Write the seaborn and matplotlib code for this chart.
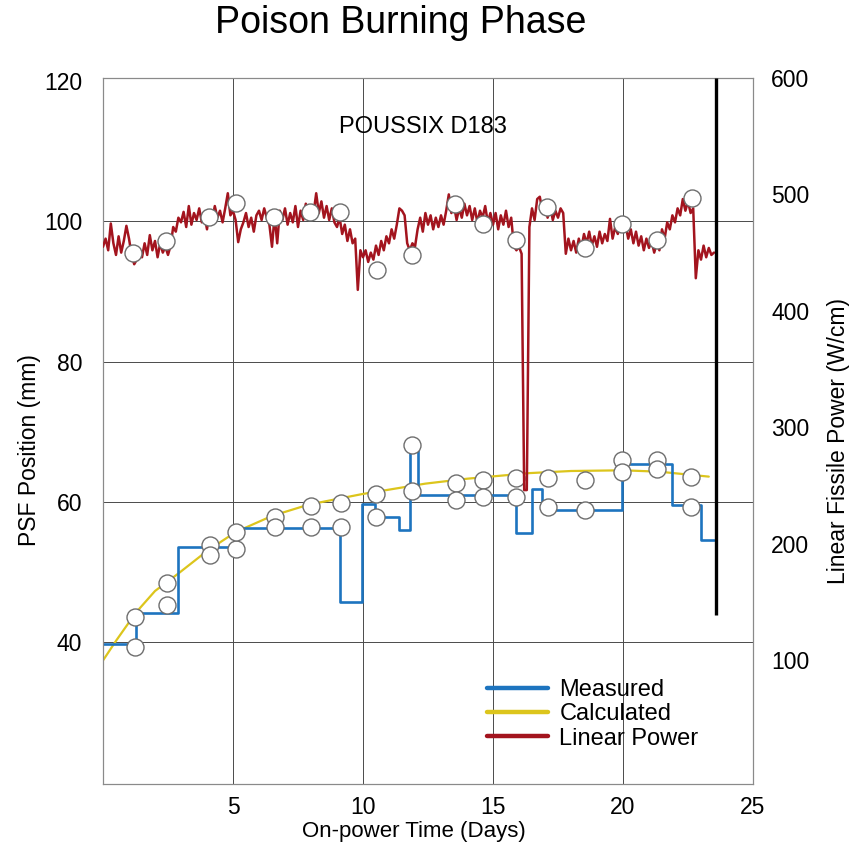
import numpy as np
import matplotlib
matplotlib.use("Agg")
import matplotlib.pyplot as plt
from matplotlib.lines import Line2D
import seaborn as sns

# ---------------- data ----------------
# Measured PSF position (step line, mm)
meas_day = [0, 1.26, 2.9, 5.1, 9.1, 9.95, 10.45, 11.4, 11.8, 12.1, 15.9, 16.5, 16.9, 19.96, 21.9, 23.0, 23.5]
meas_psf = [39.7, 44.2, 53.6, 56.3, 45.8, 59.7, 57.9, 56.0, 67.7, 61.0, 55.6, 61.9, 58.9, 65.4, 59.6, 54.6, 54.6]

# Calculated PSF position (mm)
calc_day = [0, 0.5, 1.26, 2.0, 2.9, 4.0, 5.1, 6.5, 7.9, 9.95, 12.4, 14.0, 16.4, 18.0, 20.0, 21.4, 23.3]
calc_psf = [37.4, 40.2, 44.2, 47.3, 49.8, 53.0, 55.7, 58.0, 59.6, 61.1, 62.6, 63.3, 64.1, 64.4, 64.5, 64.3, 63.6]

# Circle markers in the PSF region (mm)
psf_pt_day = [1.23, 1.23, 2.45, 2.45, 4.1, 4.1, 5.13, 5.13, 6.63, 6.63, 8.0, 8.0, 9.15, 9.15,
              10.5, 10.5, 11.9, 11.9, 13.56, 13.56, 14.6, 14.6, 15.9, 15.9, 17.1, 17.1,
              18.55, 18.55, 19.96, 19.96, 21.3, 21.3, 22.6, 22.6]
psf_pt_val = [39.3, 43.6, 45.3, 48.4, 53.9, 52.4, 53.3, 55.7, 57.9, 56.4, 59.4, 56.4, 59.9, 56.4,
              61.1, 57.9, 68.1, 61.6, 62.7, 60.3, 63.1, 60.7, 63.4, 60.7, 63.4, 59.3,
              63.1, 58.9, 65.9, 64.3, 65.9, 64.7, 63.6, 59.3]

# Circle markers on the power trace (W/cm)
pow_pt_day = [1.15, 2.41, 4.06, 5.1, 6.59, 7.97, 9.12, 10.54, 11.88, 13.52, 14.6, 15.9, 17.09,
              18.54, 19.96, 21.3, 22.64]
pow_pt_val = [450, 460, 481, 493, 481, 485, 485, 435, 448, 492, 475, 461, 489, 454, 475, 461, 497]

# Linear power trace (W/cm), one reading every 0.1 day from day 0
power_val = [
    455, 462, 452, 475, 458, 448, 464, 450, 460, 473,
    462, 448, 440, 444, 452, 446, 458, 448, 465, 452,
    460, 446, 458, 450, 455, 448, 456, 472, 468, 480,
    476, 485, 472, 490, 474, 484, 478, 488, 476, 482,
    470, 486, 478, 490, 480, 486, 476, 488, 501, 482,
    486, 478, 459, 470, 476, 484, 472, 480, 468, 482,
    486, 478, 488, 480, 474, 455, 482, 458, 486, 478,
    488, 474, 484, 476, 490, 472, 486, 478, 492, 484,
    490, 484, 501, 484, 494, 480, 490, 478, 488, 476,
    472, 480, 466, 474, 460, 470, 458, 462, 418, 452,
    446, 452, 442, 450, 444, 456, 448, 460, 452, 464,
    458, 470, 462, 474, 488, 486, 482, 458, 452, 458,
    455, 470, 480, 468, 484, 474, 482, 470, 480, 472,
    482, 474, 486, 500, 484, 490, 478, 488, 480, 492,
    482, 490, 478, 488, 476, 486, 480, 490, 476, 484,
    474, 484, 470, 482, 474, 486, 472, 480, 456, 452,
    455, 449, 246, 246, 472, 488, 478, 496, 498, 486,
    494, 480, 490, 478, 486, 480, 488, 484, 449, 462,
    452, 460, 450, 462, 454, 466, 458, 468, 456, 464,
    455, 468, 458, 466, 460, 479, 462, 472, 466, 476,
    470, 474, 462, 470, 458, 468, 456, 464, 452, 462,
    454, 460, 450, 458, 452, 470, 462, 476, 470, 482,
    476, 488, 482, 496, 486, 494, 484, 488, 428, 452,
    444, 456, 446, 454, 448, 450,
]
power_day = np.arange(len(power_val)) * 0.1

# End-of-irradiation marker
end_day = 23.56
end_low = 139
end_high = 600

x_ticks = [5, 10, 15, 20, 25]
left_ticks = [40, 60, 80, 100, 120]
right_ticks = [100, 200, 300, 400, 500, 600]

# ---------------- style ----------------
BLUE = "#1d74bf"
YELLOW = "#dcc51c"
RED = "#a3141e"

sns.set_theme(style="white")
plt.rcParams["font.family"] = ["Liberation Sans", "DejaVu Sans"]
for key in ("text.color", "axes.labelcolor", "xtick.color", "ytick.color"):
    plt.rcParams[key] = "black"

fig = plt.figure(figsize=(8.6, 8.52), dpi=100)
ax = fig.add_axes([103 / 860, 1 - 784 / 852, 650 / 860, 706 / 852])
ax2 = ax.twinx()

# left axis: PSF
sns.lineplot(x=calc_day, y=calc_psf, ax=ax, color=YELLOW, lw=1.6, estimator=None, zorder=3)
sns.lineplot(x=meas_day, y=meas_psf, ax=ax, color=BLUE, lw=1.9, estimator=None,
             drawstyle="steps-post", zorder=4)
sns.scatterplot(x=psf_pt_day, y=psf_pt_val, ax=ax, s=150, facecolor="white",
                edgecolor="#6e6e6e", linewidth=1.0, zorder=6)

# right axis: power
sns.lineplot(x=power_day, y=power_val, ax=ax2, color=RED, lw=1.8, estimator=None, zorder=3)
sns.scatterplot(x=pow_pt_day, y=pow_pt_val, ax=ax2, s=150, facecolor="white",
                edgecolor="#6e6e6e", linewidth=1.0, zorder=6)
ax2.vlines(end_day, end_low, end_high, color="black", lw=2.4, zorder=7)

ax.set_xlim(0, 25)
ax.set_ylim(19.8, 120.4)
ax2.set_ylim(-6.5, 600)
ax.set_xticks(x_ticks)
ax.set_xticklabels([str(v) for v in x_ticks])
ax.set_yticks(left_ticks)
ax.set_yticklabels([str(v) for v in left_ticks])
ax2.set_yticks(right_ticks)
ax2.set_yticklabels([str(v) for v in right_ticks])

ax.grid(True, color="#4a4a4a", lw=0.7)
ax.yaxis.get_gridlines()[-1].set_visible(False)
ax2.grid(False)
ax.tick_params(axis="x", length=0, pad=9, labelsize=16.5, colors="black")
ax.tick_params(axis="y", length=0, pad=15, labelsize=16.5, colors="black")
ax2.tick_params(axis="y", length=0, pad=13, labelsize=16.5, colors="black")
for a in (ax, ax2):
    for sp in a.spines.values():
        sp.set_color("#8a8a8a")
        sp.set_linewidth(0.8)

ax.set_xlabel("On-power Time (Days)", fontsize=16, color="black")
ax.set_ylabel("PSF Position (mm)", fontsize=16.5, color="black")
ax2.set_ylabel("Linear Fissile Power (W/cm)", fontsize=16.5, color="black")
ax.xaxis.set_label_coords((414 - 103) / 650, (784 - 831) / 706)
ax.yaxis.set_label_coords((30 - 103) / 650, (784 - 450) / 706)
ax2.yaxis.set_label_coords((838 - 103) / 650, (784 - 441) / 706)
ax.xaxis.label.set_verticalalignment("center")
ax.yaxis.label.set_verticalalignment("center")
ax2.yaxis.label.set_verticalalignment("center")
ax2.yaxis.label.set_rotation(90)

ax.text(12.3, 113.4, "POUSSIX D183", ha="center", va="center", fontsize=17, color="black")

fig.suptitle("Poison Burning Phase", x=401 / 860, y=1 - 23 / 852, va="center",
             fontsize=27, color="black")

handles = [
    Line2D([], [], color=BLUE, lw=3.2),
    Line2D([], [], color=YELLOW, lw=3.2),
    Line2D([], [], color=RED, lw=3.2),
]
leg = ax2.legend(handles, ["Measured", "Calculated", "Linear Power"], loc="upper left",
                 bbox_to_anchor=(487 / 860, 1 - 679 / 852), bbox_transform=fig.transFigure,
                 frameon=False, fontsize=17, handlelength=2.6, handletextpad=0.47,
                 labelspacing=0.1, borderpad=0, borderaxespad=0)
for t in leg.get_texts():
    t.set_color("black")

fig.savefig("out.png", dpi=100, facecolor="white")
